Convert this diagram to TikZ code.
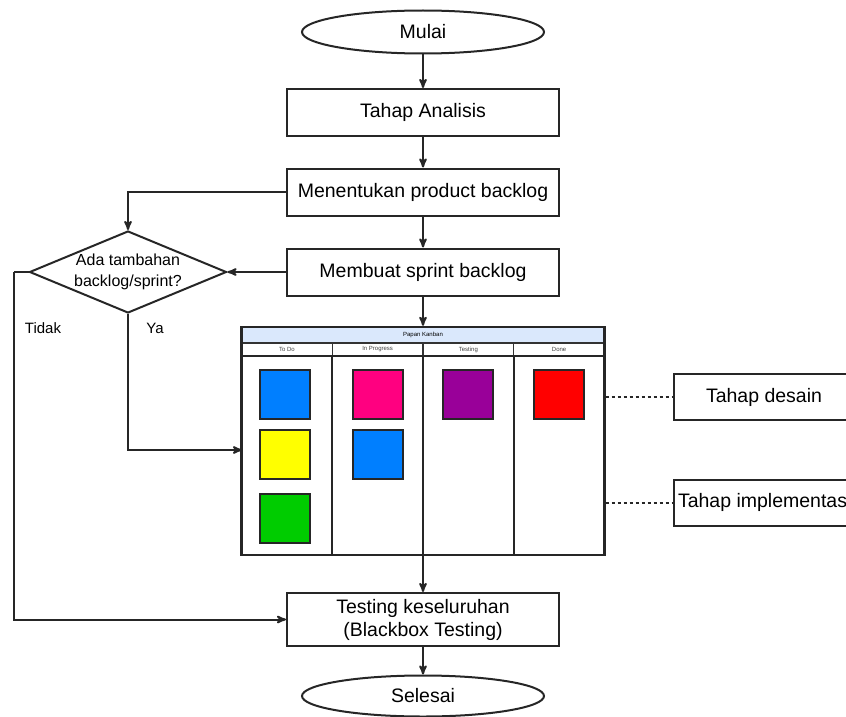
\documentclass[tikz,border=0pt]{standalone}
\usepackage{fontspec}
\setmainfont{Liberation Sans}
\usepackage{xcolor}
\usepackage{tikz}
\usetikzlibrary{arrows}
\usetikzlibrary{shapes.geometric}
\definecolor{cardblue}{HTML}{007FFF}
\definecolor{cardpink}{HTML}{FF0080}
\definecolor{cardpurple}{HTML}{990099}
\definecolor{cardred}{HTML}{FF0000}
\definecolor{cardyellow}{HTML}{FFFF00}
\definecolor{cardgreen}{HTML}{00CC00}
\definecolor{titlebar}{HTML}{DAE8FC}
\tikzset{
    fnode/.style = {align=center, inner sep=0pt, text centered, draw=black!85, line width=2pt},
    terminal/.style = {fnode, ellipse, minimum width=242pt, minimum height=43pt, font=\fontsize{19.5}{23}\selectfont},
    process/.style = {fnode, rectangle, minimum width=272pt, minimum height=47pt, font=\fontsize{19.5}{23}\selectfont},
    decision/.style = {fnode, diamond, minimum width=197pt, minimum height=82pt},
    phase/.style = {fnode, rectangle, minimum width=180pt, minimum height=46pt, anchor=west, font=\fontsize{19.5}{23}\selectfont},
    plain/.style = {align=center, inner sep=0pt, text centered},
    board/.style = {rectangle, draw=black!85, line width=2.4pt, minimum width=363pt, minimum height=228pt},
    bar/.style = {rectangle, draw=black!80, line width=1.2pt, fill=titlebar, minimum width=363pt, minimum height=16pt, font=\fontsize{6}{7}\selectfont},
    colhead/.style = {rectangle, draw=black!80, line width=1.2pt, minimum width=90.75pt, minimum height=13pt, font=\fontsize{6}{7}\selectfont, text=black!75},
    colbody/.style = {rectangle, draw=black!85, line width=2pt, minimum width=90.75pt, minimum height=199pt},
    card/.style = {rectangle, draw=black!85, line width=2pt, minimum width=50pt, minimum height=49pt, inner sep=0pt}
}

\begin{document}
\begin{tikzpicture}
            [->,>=stealth', x=1pt, y=-1pt, line width=2pt, draw=black!85]

            \useasboundingbox (0,0) rectangle (846,717);
            \clip (0,0) rectangle (846,717);

            \node [terminal] (start) at (423,32) {Mulai};
            \node [process] (analysis) at (423,112.5) {Tahap Analisis};
            \node [process] (product) at (423,192) {Menentukan product backlog};
            \node [process] (sprint) at (423,272) {Membuat sprint backlog};
            \node [decision] (ask) at (128,272) {};
            \node [plain, font=\fontsize{16}{21}\selectfont] (askText) at (128,272) {Ada tambahan\\backlog/sprint?};
            \node [plain, font=\fontsize{15}{18}\selectfont] (noLabel) at (43,328) {Tidak};
            \node [plain, font=\fontsize{15}{18}\selectfont] (yesLabel) at (155,328) {Ya};

            % papan kanban
            \node [board] (kanban) at (423,441) {};
            \node [bar] (title) at (423,335) {Papan Kanban};
            \node [colhead] (todo) at (286.9,349.5) {To Do};
            \node [colhead] (progress) at (377.6,349.5) {In Progress};
            \node [colhead] (testing) at (468.4,349.5) {Testing};
            \node [colhead] (done) at (559.1,349.5) {Done};
            \node [colbody] (todoCol) at (286.9,455.5) {};
            \node [colbody] (progressCol) at (377.6,455.5) {};
            \node [colbody] (testingCol) at (468.4,455.5) {};
            \node [colbody] (doneCol) at (559.1,455.5) {};
            \node [board, fill=none] (kanbanFrame) at (423,441) {};
            \node [card, fill=cardblue] (todoA) at (284.5,394.5) {};
            \node [card, fill=cardyellow] (todoB) at (284.5,454.5) {};
            \node [card, fill=cardgreen] (todoC) at (284.5,518) {};
            \node [card, fill=cardpink] (progressA) at (377.5,394.5) {};
            \node [card, fill=cardblue] (progressB) at (377.5,454.5) {};
            \node [card, fill=cardpurple] (testingA) at (467.5,394.5) {};
            \node [card, fill=cardred] (doneA) at (558.5,394.5) {};

            \node [phase] (design) at (673,397) {Tahap desain};
            \node [phase] (build) at (673,502.5) {\makebox[172pt][l]{Tahap implementasi}};

            \node [process, minimum height=53pt] (final) at (423,619.5) {Testing keseluruhan\\(Blackbox Testing)};
            \node [terminal, minimum height=41pt] (stop) at (423,696) {Selesai};

            \coordinate (yesIn) at (242,450);
            \coordinate (noTurn) at (14,272);

            \draw (start) -- (analysis);
            \draw (analysis) -- (product);
            \draw (product) -- (sprint);
            \draw (product.west) -| (ask.north);
            \draw (sprint.west) -- (ask.east);
            \draw (sprint) -- (kanban);
            \draw [-] (ask.west) -- (noTurn);
            \draw (noTurn) |- (final.west);
            \draw (ask.south) |- (yesIn);
            \draw (kanban) -- (final);
            \draw (final) -- (stop);
            \draw [-, dashed] (kanban.east |- design.west) -- (design.west);
            \draw [-, dashed] (kanban.east |- build.west) -- (build.west);
\end{tikzpicture}
\end{document}
